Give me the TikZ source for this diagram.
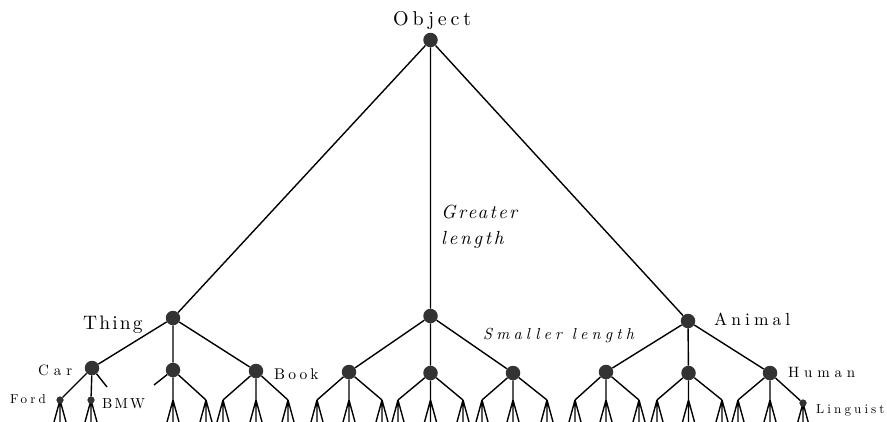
\documentclass[tikz,border=0pt]{standalone}
\usepackage{fontspec}
\setmainfont{lmroman10-regular.otf}[ItalicFont=lmroman10-italic.otf,BoldFont=lmroman10-bold.otf]
\newcommand{\lsp}[3]{\fontsize{#1}{#1}\selectfont\addfontfeatures{LetterSpace=#2}#3}
\definecolor{dotc}{HTML}{333333}
\begin{document}
\begin{tikzpicture}[x=1pt,y=-1pt,
  dot/.style={circle,fill=dotc,inner sep=0pt,minimum size=14.5pt},
  sdot/.style={circle,fill=dotc,inner sep=0pt,minimum size=7pt},
  edge/.style={line width=1.4pt},
  lbl/.style={anchor=base west,inner sep=0pt}]
\useasboundingbox (0,0) rectangle (887,421);
\clip (0,0) rectangle (887,421);
% dots
\node[dot] (obj) at (430.5,40) {};
\node[dot] (thing) at (173,318) {};
\node[dot] (mid) at (430.5,316) {};
\node[dot] (animal) at (688,321) {};
\node[dot] (car) at (92,368) {};
\node[dot] (t2) at (173,370) {};
\node[dot] (book) at (256,371) {};
\node[dot] (m1) at (349,372) {};
\node[dot] (m2) at (430.5,373) {};
\node[dot] (m3) at (513,373) {};
\node[dot] (a1) at (606,372) {};
\node[dot] (a2) at (688.5,373) {};
\node[dot] (human) at (770,373) {};
\node[sdot] (ford) at (60,400) {};
\node[sdot] (bmw) at (91,400) {};
\node[sdot] (ling) at (803,403) {};
\coordinate (carstub) at (107,387);
\coordinate (t2stub) at (154,385);
\foreach \n/\x in {t2b/173,t2c/206,bka/223,bkb/256,bkc/288,
  m1a/317,m1b/349,m1c/382,m2a/398,m2b/430.5,m2c/463,m3a/482,m3b/513,m3c/547,
  a1a/575,a1b/606,a1c/639,a2a/657,a2b/688.5,a2c/722,hua/738,hub/770}
  \coordinate (\n) at (\x,400);
% connectors
\draw[edge] (obj)--(thing) (obj)--(mid) (obj)--(animal)
  (thing)--(car) (thing)--(t2) (thing)--(book)
  (mid)--(m1) (mid)--(m2) (mid)--(m3)
  (animal)--(a1) (animal)--(a2) (animal)--(human)
  (car)--(ford) (car)--(bmw) (car)--(carstub)
  (t2)--(t2stub) (t2)--(t2b) (t2)--(t2c)
  (book)--(bka) (book)--(bkb) (book)--(bkc)
  (m1)--(m1a) (m1)--(m1b) (m1)--(m1c)
  (m2)--(m2a) (m2)--(m2b) (m2)--(m2c)
  (m3)--(m3a) (m3)--(m3b) (m3)--(m3c)
  (a1)--(a1a) (a1)--(a1b) (a1)--(a1c)
  (a2)--(a2a) (a2)--(a2b) (a2)--(a2c)
  (human)--(hua) (human)--(hub) (human)--(ling);
% forks
\foreach \n in {ford,bmw,t2b,t2c,bka,bkb,bkc,m1a,m1b,m1c,m2a,m2b,m2c,m3a,m3b,m3c,
  a1a,a1b,a1c,a2a,a2b,a2c,hua,hub,ling}{
  \path (\n.center) ++(-6,22) coordinate (\n-l)
        (\n.center) ++(0,22) coordinate (\n-m)
        (\n.center) ++(6,22) coordinate (\n-r);
  \draw[edge] (\n.center)--(\n-l) (\n.center)--(\n-m) (\n.center)--(\n-r);
}
\node[sdot] at (ford) {};
\node[sdot] at (bmw) {};
\node[sdot] at (ling) {};
% labels
\node[lbl] (lobj) at (393,25) {\lsp{20}{19}{Object}};
\node[lbl] (lthing) at (83,329) {\lsp{19.5}{11}{Thing}};
\node[lbl] (lanimal) at (714,325) {\lsp{17.5}{23}{Animal}};
\node[lbl] (lcar) at (38,375) {\lsp{15}{33}{Car}};
\node[lbl] (lbook) at (274,379) {\lsp{15.5}{20}{Book}};
\node[lbl] (lhuman) at (788,377) {\lsp{15}{32}{Human}};
\node[lbl] (lford) at (10,403) {\lsp{13}{24}{Ford}};
\node[lbl] (lbmw) at (102,408) {\lsp{14.5}{15}{BMW}};
\node[lbl] (lling) at (816,413) {\lsp{13}{24}{Linguist}};
\node[lbl] (lgr) at (441,218) {\itshape\lsp{19}{12}{Greater}};
\node[lbl] (llen) at (441,244) {\itshape\lsp{19}{14}{length}};
\node[lbl] (lsm) at (483,339) {\itshape\lsp{16}{26}{Smaller length}};
\end{tikzpicture}
\end{document}
